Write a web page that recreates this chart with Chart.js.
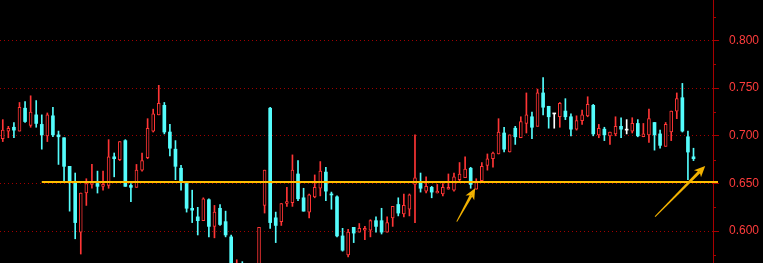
<!DOCTYPE html>
<html>
<head>
<meta charset="utf-8">
<script src="https://cdn.jsdelivr.net/npm/chart.js@4.4.1/dist/chart.umd.min.js"></script>
<style>
  html, body { margin: 0; padding: 0; background: #000; overflow: hidden; }
  #wrap { width: 763px; height: 263px; }
</style>
</head>
<body>
<div id="wrap"><canvas id="kline"></canvas></div>
<script>
// --- DATA (daily candles, oldest first) ---
const open = [
  0.697, 0.705, 0.709, 0.705, 0.729, 0.711, 0.722, 0.712, 0.700, 0.721,
  0.701, 0.698, 0.668, 0.651, 0.599, 0.640, 0.649, 0.650, 0.647, 0.648,
  0.678, 0.675, 0.695, 0.648, 0.646, 0.664, 0.677, 0.705, 0.722, 0.732,
  0.704, 0.686, 0.666, 0.650, 0.624, 0.615, 0.611, 0.633, 0.605, 0.624,
  0.610, 0.594, 0.548, 0.565, 0.546, 0.555, 0.552, 0.627, 0.729, 0.614,
  0.610, 0.629, 0.630, 0.660, 0.635, 0.620, 0.636, 0.645, 0.662, 0.639,
  0.636, 0.595, 0.575, 0.604, 0.599, 0.601, 0.601, 0.611, 0.611, 0.599,
  0.614, 0.628, 0.618, 0.623, 0.649, 0.651, 0.642, 0.646, 0.640, 0.639,
  0.644, 0.643, 0.654, 0.656, 0.666, 0.644, 0.653, 0.669, 0.676, 0.681,
  0.703, 0.683, 0.708, 0.698, 0.713, 0.720, 0.710, 0.745, 0.731, 0.723,
  0.720, 0.726, 0.720, 0.707, 0.716, 0.721, 0.732, 0.701, 0.707, 0.700,
  0.702, 0.710, 0.706, 0.705, 0.713, 0.699, 0.701, 0.714, 0.702, 0.689,
  0.704, 0.726, 0.740, 0.699, 0.678
];
const high = [
  0.717, 0.710, 0.714, 0.735, 0.736, 0.742, 0.737, 0.722, 0.724, 0.730,
  0.705, 0.698, 0.668, 0.661, 0.640, 0.655, 0.670, 0.663, 0.663, 0.696,
  0.682, 0.694, 0.696, 0.650, 0.670, 0.682, 0.718, 0.728, 0.753, 0.735,
  0.712, 0.695, 0.669, 0.650, 0.643, 0.625, 0.635, 0.634, 0.627, 0.628,
  0.621, 0.596, 0.570, 0.568, 0.560, 0.562, 0.604, 0.664, 0.730, 0.620,
  0.629, 0.646, 0.680, 0.674, 0.645, 0.639, 0.659, 0.673, 0.667, 0.641,
  0.637, 0.603, 0.602, 0.604, 0.608, 0.605, 0.612, 0.615, 0.624, 0.615,
  0.626, 0.635, 0.639, 0.639, 0.701, 0.661, 0.657, 0.647, 0.649, 0.650,
  0.660, 0.661, 0.672, 0.678, 0.667, 0.655, 0.672, 0.681, 0.683, 0.718,
  0.709, 0.701, 0.710, 0.720, 0.745, 0.725, 0.749, 0.761, 0.731, 0.723,
  0.735, 0.739, 0.723, 0.721, 0.727, 0.741, 0.733, 0.712, 0.709, 0.704,
  0.720, 0.719, 0.717, 0.719, 0.717, 0.713, 0.728, 0.714, 0.706, 0.714,
  0.726, 0.745, 0.755, 0.705, 0.687
];
const low = [
  0.694, 0.698, 0.698, 0.705, 0.714, 0.709, 0.709, 0.686, 0.694, 0.699,
  0.670, 0.653, 0.621, 0.592, 0.576, 0.627, 0.645, 0.640, 0.643, 0.645,
  0.657, 0.674, 0.647, 0.631, 0.646, 0.663, 0.676, 0.704, 0.722, 0.702,
  0.679, 0.654, 0.643, 0.620, 0.609, 0.596, 0.611, 0.594, 0.593, 0.606,
  0.594, 0.552, 0.545, 0.545, 0.540, 0.548, 0.550, 0.619, 0.603, 0.588,
  0.606, 0.626, 0.626, 0.632, 0.621, 0.614, 0.635, 0.637, 0.632, 0.623,
  0.594, 0.579, 0.573, 0.588, 0.599, 0.591, 0.594, 0.599, 0.597, 0.599,
  0.605, 0.616, 0.615, 0.616, 0.609, 0.641, 0.640, 0.635, 0.640, 0.637,
  0.644, 0.642, 0.653, 0.656, 0.645, 0.644, 0.653, 0.664, 0.667, 0.681,
  0.683, 0.683, 0.691, 0.698, 0.703, 0.697, 0.710, 0.722, 0.708, 0.708,
  0.709, 0.717, 0.700, 0.706, 0.712, 0.720, 0.700, 0.698, 0.695, 0.691,
  0.700, 0.698, 0.702, 0.703, 0.699, 0.699, 0.693, 0.685, 0.687, 0.689,
  0.695, 0.718, 0.704, 0.654, 0.674
];
const close = [
  0.706, 0.708, 0.706, 0.730, 0.715, 0.725, 0.713, 0.701, 0.722, 0.701,
  0.699, 0.668, 0.651, 0.609, 0.640, 0.650, 0.651, 0.647, 0.649, 0.678,
  0.676, 0.694, 0.647, 0.646, 0.664, 0.674, 0.708, 0.723, 0.734, 0.704,
  0.687, 0.668, 0.652, 0.624, 0.622, 0.611, 0.634, 0.605, 0.620, 0.607,
  0.596, 0.558, 0.560, 0.548, 0.555, 0.550, 0.604, 0.664, 0.609, 0.606,
  0.629, 0.631, 0.664, 0.634, 0.621, 0.638, 0.646, 0.663, 0.642, 0.638,
  0.595, 0.580, 0.599, 0.598, 0.603, 0.603, 0.611, 0.605, 0.599, 0.609,
  0.626, 0.619, 0.627, 0.638, 0.656, 0.645, 0.647, 0.641, 0.642, 0.646,
  0.646, 0.657, 0.660, 0.665, 0.649, 0.651, 0.668, 0.676, 0.682, 0.704,
  0.686, 0.701, 0.699, 0.715, 0.722, 0.709, 0.745, 0.730, 0.720, 0.723,
  0.734, 0.720, 0.707, 0.716, 0.722, 0.733, 0.702, 0.708, 0.701, 0.704,
  0.710, 0.707, 0.706, 0.713, 0.700, 0.702, 0.718, 0.701, 0.690, 0.712,
  0.726, 0.739, 0.705, 0.683, 0.676
];

const SLOTS = 128;                 // 125 candles + empty room on the right
const yMin = 0.5666;
const yMax = 0.8425;
const majorTicks = [0.600, 0.650, 0.700, 0.750, 0.800];
const minorTicks = [0.575, 0.625, 0.675, 0.725, 0.775, 0.825];

// horizontal support line and the two hand-drawn arrows (candle index, price)
const levelPrice = 0.6517;
const levelFrom = 7;
const arrowTails = [[81.5, 0.610], [117.1, 0.6152]];
const arrowTips = [[84.8, 0.645], [126.1, 0.6684]];

// --- STYLE ---
const UP = '#ff3535';
const DOWN = '#54fcfc';
const FLAT = '#ffffff';
const AXIS_COLOR = '#a80000';
const GRID_COLOR = '#a00000';
const LABEL_COLOR = '#ff3c3c';
const LEVEL_COLOR = '#ffbf00';
const ARROW_COLOR = '#f2b200';

const labels = Array.from({ length: SLOTS }, (_, i) => i + 1);
const candleColor = close.map((c, i) => c > open[i] ? UP : (c < open[i] ? DOWN : FLAT));
const isUp = close.map((c, i) => c > open[i]);

// --- OVERLAY: minor axis ticks, support line, arrows ---
const overlay = {
  id: 'overlay',
  afterDatasetsDraw(chart) {
    const { ctx, chartArea, scales: { x, y } } = chart;
    ctx.save();

    const ly = y.getPixelForValue(levelPrice);
    ctx.strokeStyle = LEVEL_COLOR;
    ctx.lineWidth = 2;
    ctx.beginPath();
    ctx.moveTo(x.getPixelForValue(levelFrom), ly);
    ctx.lineTo(chartArea.right + 5, ly);
    ctx.stroke();

    ctx.fillStyle = ARROW_COLOR;
    arrowTails.forEach((t, i) => {
      const x1 = x.getPixelForValue(t[0]), y1 = y.getPixelForValue(t[1]);
      const x2 = x.getPixelForValue(arrowTips[i][0]), y2 = y.getPixelForValue(arrowTips[i][1]);
      const ang = Math.atan2(y2 - y1, x2 - x1);
      const c = Math.cos(ang), s = Math.sin(ang);
      const headLen = 11, headW = 5, notch = 8;
      const bx = x2 - headLen * c, by = y2 - headLen * s;
      const nx = x2 - notch * c, ny = y2 - notch * s;
      // tapered shaft
      ctx.beginPath();
      ctx.moveTo(x1 - 0.5 * s, y1 + 0.5 * c);
      ctx.lineTo(nx - 1.5 * s, ny + 1.5 * c);
      ctx.lineTo(nx + 1.5 * s, ny - 1.5 * c);
      ctx.lineTo(x1 + 0.5 * s, y1 - 0.5 * c);
      ctx.closePath();
      ctx.fill();
      // head
      ctx.beginPath();
      ctx.moveTo(x2, y2);
      ctx.lineTo(bx - headW * s, by + headW * c);
      ctx.lineTo(nx, ny);
      ctx.lineTo(bx + headW * s, by - headW * c);
      ctx.closePath();
      ctx.fill();
    });
    ctx.restore();
  },
  afterDraw(chart) {
    const { ctx, chartArea, scales: { y } } = chart;
    ctx.save();
    ctx.strokeStyle = AXIS_COLOR;
    ctx.lineWidth = 1;
    minorTicks.forEach(v => {
      const py = Math.round(y.getPixelForValue(v)) + 0.5;
      ctx.beginPath();
      ctx.moveTo(chartArea.right, py);
      ctx.lineTo(chartArea.right + 3, py);
      ctx.stroke();
    });
    ctx.restore();
  }
};

new Chart(document.getElementById('kline'), {
  type: 'bar',
  data: {
    labels: labels,
    datasets: [
      {
        // bodies (drawn on top of the wicks)
        order: 0,
        data: open.map((o, i) => [o, close[i]]),
        backgroundColor: candleColor.map((c, i) => isUp[i] ? '#000000' : c),
        borderColor: candleColor,
        borderWidth: isUp.map(u => u ? 1 : 0),
        borderSkipped: false,
        barThickness: 3,
        minBarLength: 1,
        grouped: false
      },
      {
        // wicks
        order: 1,
        data: low.map((l, i) => [l, high[i]]),
        backgroundColor: candleColor,
        borderWidth: 0,
        barThickness: 1,
        grouped: false
      }
    ]
  },
  options: {
    responsive: true,
    maintainAspectRatio: false,
    animation: false,
    layout: { padding: 0 },
    plugins: { legend: { display: false }, tooltip: { enabled: false } },
    scales: {
      x: { type: 'category', display: false, offset: true },
      y: {
        position: 'right',
        min: yMin,
        max: yMax,
        afterBuildTicks: axis => { axis.ticks = majorTicks.map(v => ({ value: v })); },
        afterFit: axis => { axis.width = 50; axis.paddingTop = 0; axis.paddingBottom = 0; },
        grid: { color: GRID_COLOR, tickColor: AXIS_COLOR, tickLength: 6, lineWidth: 1 },
        border: { display: true, color: AXIS_COLOR, width: 1, dash: [1, 3] },
        ticks: {
          color: LABEL_COLOR,
          padding: 10,
          autoSkip: false,
          font: { family: 'Liberation Sans', size: 12 },
          callback: v => Number(v).toFixed(3)
        }
      }
    }
  },
  plugins: [overlay]
});
</script>
</body>
</html>
